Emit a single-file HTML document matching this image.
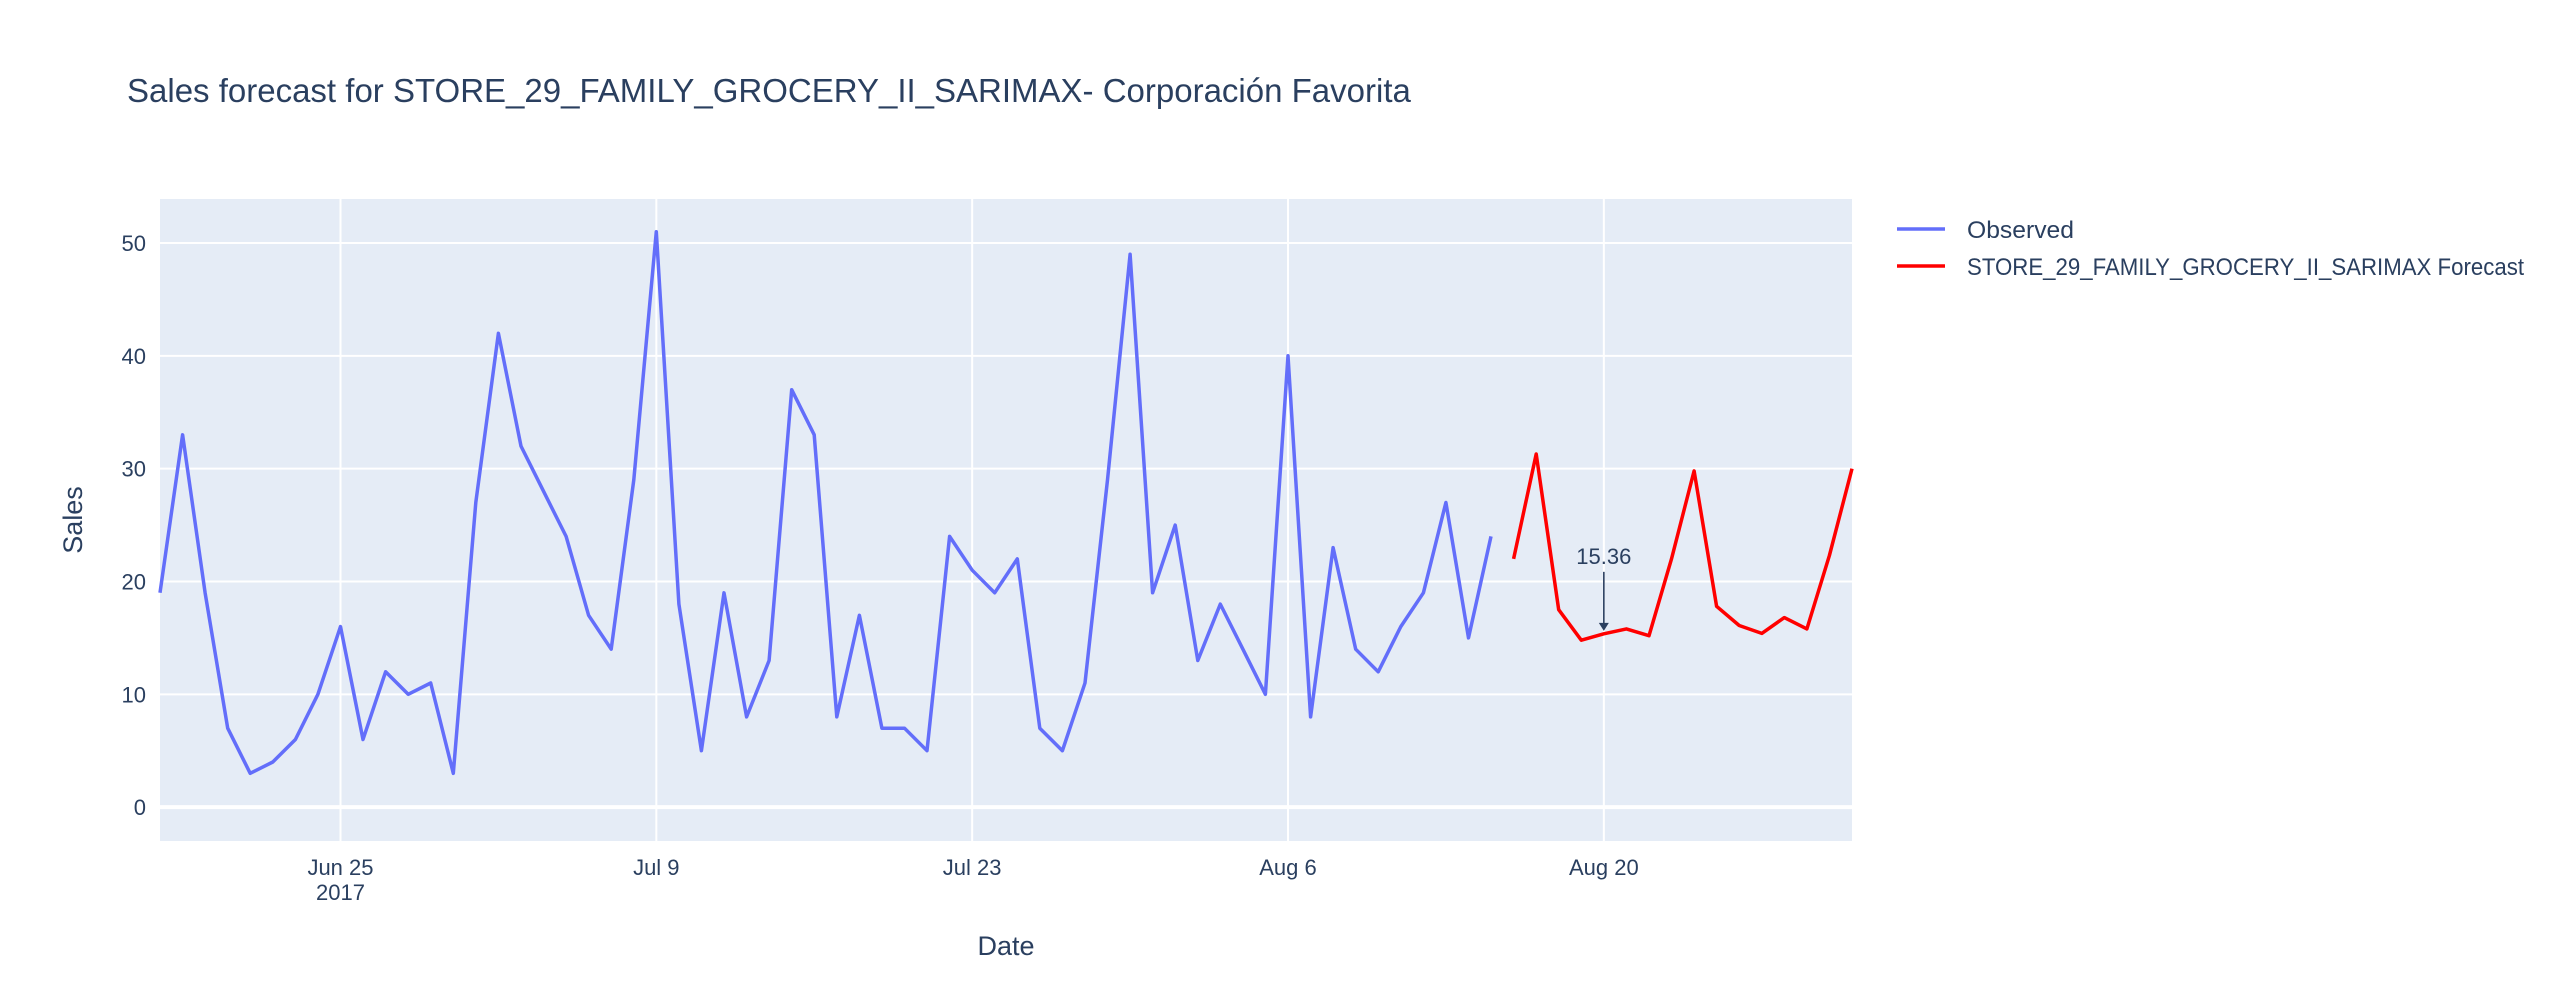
<!DOCTYPE html>
<html><head><meta charset="utf-8"><style>
body{margin:0;background:#fff;}
svg text{font-family:"Liberation Sans",sans-serif;fill:#2a3f5f;}
</style></head><body>
<svg id="chart" width="2560" height="1000" xmlns="http://www.w3.org/2000/svg">
<rect width="2560" height="1000" fill="#fff"/>
<text x="127" y="102" font-size="33">Sales forecast for STORE_29_FAMILY_GROCERY_II_SARIMAX- Corporación Favorita</text>
<rect x="160" y="199" width="1692" height="642" fill="#e5ecf6"/>
<g id="grid"></g><g id="series"></g><g id="ticks"></g>
<text x="1006" y="955" font-size="27" text-anchor="middle">Date</text>
<text transform="translate(82,520) rotate(-90)" font-size="27" text-anchor="middle">Sales</text>
<g>
<g><line x1="1897" y1="229" x2="1945" y2="229" stroke="#636efa" stroke-width="3.5"/><text x="1967" y="238" font-size="24" textLength="107" lengthAdjust="spacingAndGlyphs">Observed</text></g>
<g><line x1="1897" y1="266" x2="1945" y2="266" stroke="#ff0000" stroke-width="3.5"/><text x="1967" y="275" font-size="24" textLength="557" lengthAdjust="spacingAndGlyphs">STORE_29_FAMILY_GROCERY_II_SARIMAX Forecast</text></g>
</g>
</svg>
<script>
const observedStart = "2017-06-17";
const observedValues = [19,33,19,7,3,4,6,10,16,6,12,10,11,3,27,42,32,28,24,17,14,29,51,18,5,19,8,13,37,33,8,17,7,7,5,24,21,19,22,7,5,11,29,49,19,25,13,18,14,10,40,8,23,14,12,16,19,27,15,24];
const forecastStart = "2017-08-16";
const forecastValues = [22,31.3,17.5,14.8,15.36,15.8,15.2,22,29.8,17.8,16.1,15.4,16.8,15.8,22.3,30];
const yTicks = [0,10,20,30,40,50];
const xTickDates = ["2017-06-25","2017-07-09","2017-07-23","2017-08-06","2017-08-20"];
const xTickLabels = ["Jun 25","Jul 9","Jul 23","Aug 6","Aug 20"];
const annotationDate = "2017-08-20";
const annotationValue = 15.36;

const NS="http://www.w3.org/2000/svg";
const L=160,R=1852,T=199,B=841;
const d0=Date.UTC(2017,5,17), dEnd=Date.UTC(2017,7,31);
const yMin=-3.0,yMax=53.9;
function day(s){const p=s.split("-");return Date.UTC(+p[0],+p[1]-1,+p[2]);}
function xs(t){return L+(t-d0)/(dEnd-d0)*(R-L);}
function ys(v){return B-(v-yMin)/(yMax-yMin)*(B-T);}
function mk(tag,attrs,parent){const e=document.createElementNS(NS,tag);for(const k in attrs)e.setAttribute(k,attrs[k]);parent.appendChild(e);return e;}
const grid=document.getElementById("grid"),ticks=document.getElementById("ticks"),series=document.getElementById("series");
yTicks.forEach(v=>{
  const g=mk("line",{x1:L,x2:R,y1:ys(v),y2:ys(v),stroke:"#fff","stroke-width":v===0?4:2},grid);
  
  
  const t=mk("text",{x:L-14,y:ys(v)+8,"font-size":22,"text-anchor":"end"},ticks);
  t.textContent=v;
  
  
});
xTickDates.forEach((s,i)=>{
  const x=xs(day(s));
  const g=mk("line",{x1:x,x2:x,y1:T,y2:B,stroke:"#fff","stroke-width":2},grid);
  
  
  const t=mk("text",{x:x,y:875,"font-size":22,"text-anchor":"middle"},ticks);
  t.textContent=xTickLabels[i];
  
  
  if(i===0){const t2=mk("text",{x:x,y:900,"font-size":22,"text-anchor":"middle"},ticks);t2.textContent="2017";
  
  }
});
function pts(start,vals){const s=day(start);return vals.map((v,i)=>xs(s+i*86400000).toFixed(1)+","+ys(v).toFixed(1)).join(" ");}
const o=mk("polyline",{points:pts(observedStart,observedValues),fill:"none",stroke:"#636efa","stroke-width":3.5,"stroke-linejoin":"round"},series);


const f=mk("polyline",{points:pts(forecastStart,forecastValues),fill:"none",stroke:"#ff0000","stroke-width":3.5,"stroke-linejoin":"round"},series);


const ax=xs(day(annotationDate)),ay=ys(annotationValue);
const al=mk("line",{x1:ax,x2:ax,y1:ay-62,y2:ay-6,stroke:"#2a3f5f","stroke-width":1.6},series);


const ah=mk("polygon",{points:`${ax-5},${ay-11} ${ax+5},${ay-11} ${ax},${ay-3}`,fill:"#2a3f5f"},series);


const at=mk("text",{x:ax,y:ay-70,"font-size":22,"text-anchor":"middle"},series);
at.textContent=annotationValue.toFixed(2);


</script>
</body></html>
